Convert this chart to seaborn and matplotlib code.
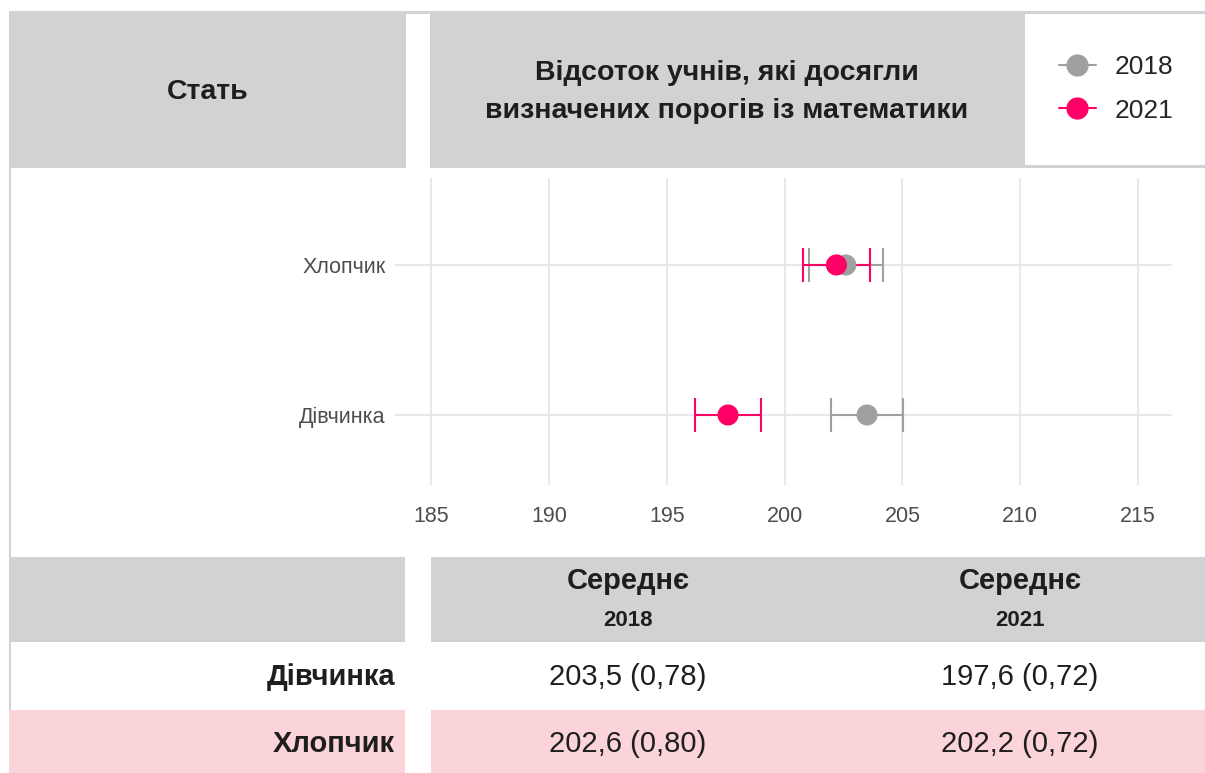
import numpy as np
import matplotlib
matplotlib.use("Agg")
import matplotlib.pyplot as plt
from matplotlib.patches import Rectangle
from matplotlib.lines import Line2D
import seaborn as sns

# data
groups = ["Дівчинка", "Хлопчик"]
years = ["2018", "2021"]
mean_2018 = [203.5, 202.6]
se_2018 = [0.78, 0.80]
mean_2021 = [197.6, 202.2]
se_2021 = [0.72, 0.72]
x_ticks = [185, 190, 195, 200, 205, 210, 215]

year_colors = {"2018": "#A0A0A0", "2021": "#FF0066"}
header_gray = "#D1D2D4"
row_pink = "#FAD4D8"
ink = "#1E1E1E"

sns.set_theme(style="whitegrid")
plt.rcParams["font.family"] = ["Liberation Sans", "DejaVu Sans"]

W, H = 1205, 773
fig = plt.figure(figsize=(W / 100, H / 100), dpi=100)


def box(x0, y0, x1, y1, color):
    # pixel box (top-left origin) -> figure patch
    fig.patches.append(Rectangle((x0 / W, 1 - y1 / H), (x1 - x0) / W, (y1 - y0) / H,
                                 transform=fig.transFigure, color=color, lw=0, zorder=0))


def ftext(x, y, s, **kw):
    fig.text(x / W, 1 - y / H, s, **kw)


# header band
box(9, 11, 1205, 168, header_gray)
box(406, 14, 430, 168, "white")
box(1025, 14, 1205, 165, "white")
box(9, 168, 11, 773, header_gray)
ftext(208, 92, "Стать", ha="center", va="center", fontsize=20.5, fontweight="bold", color=ink)
ftext(727, 92, "Відсоток учнів, які досягли\nвизначених порогів із математики",
      ha="center", va="center", fontsize=20.5, fontweight="bold", color=ink, linespacing=1.55)

# point + interval panel
ax = fig.add_axes([395 / W, 1 - 485 / H, 777 / W, 307 / H])
ypos = {"Хлопчик": 1, "Дівчинка": 0}
rows = []
for yr, means, ses in [("2018", mean_2018, se_2018), ("2021", mean_2021, se_2021)]:
    for g, m, s in zip(groups, means, ses):
        rows.append((yr, g, m, s))

for yr, g, m, s in rows:
    ax.errorbar(m, ypos[g], xerr=1.96 * s, fmt="none", ecolor=year_colors[yr],
                elinewidth=1.5, capsize=12, capthick=1.5, zorder=3)
sns.scatterplot(x=[r[2] for r in rows], y=[ypos[r[1]] for r in rows],
                hue=[r[0] for r in rows], palette=year_colors, s=230,
                linewidth=0, legend=False, ax=ax, zorder=4)

ax.set_xlim(183.47, 216.44)
ax.set_ylim(-0.467, 1.58)
ax.set_xticks(x_ticks)
ax.set_yticks([ypos[g] for g in groups])
ax.set_yticklabels(groups)
ax.grid(True, color="#E6E6E6", linewidth=1.3)
ax.set_facecolor("white")
for sp in ax.spines.values():
    sp.set_visible(False)
ax.tick_params(axis="x", labelsize=15.5, labelcolor="#4D4D4D", pad=15, length=0)
ax.tick_params(axis="y", labelsize=15.5, labelcolor="#4D4D4D", pad=7, length=0)
ax.set_xlabel("")
ax.set_ylabel("")

handles = [Line2D([0], [0], color=year_colors[y], marker="o", markersize=15, lw=1.5) for y in years]
fig.legend(handles, years, loc="center left", bbox_to_anchor=(1035 / W, 1 - 89 / H),
           frameon=False, fontsize=19, handlelength=1.4, labelspacing=0.72, handletextpad=0.7)

# table below
box(9, 557, 405, 642, header_gray)
box(431, 557, 1205, 642, header_gray)
box(9, 710, 405, 773, row_pink)
box(431, 710, 1205, 773, row_pink)
col_x = {"2018": 628, "2021": 1020}
for yr in years:
    ftext(col_x[yr], 581, "Середнє", ha="center", va="center", fontsize=21,
          fontweight="bold", color=ink)
    ftext(col_x[yr], 621, yr, ha="center", va="center", fontsize=16,
          fontweight="bold", color=ink)

row_y = {"Дівчинка": 677, "Хлопчик": 744}
for g in groups:
    ftext(395, row_y[g], g, ha="right", va="center", fontsize=21, fontweight="bold", color=ink)
for yr, means, ses in [("2018", mean_2018, se_2018), ("2021", mean_2021, se_2021)]:
    for g, m, s in zip(groups, means, ses):
        label = f"{m:.1f} ({s:.2f})".replace(".", ",")
        ftext(col_x[yr], row_y[g], label, ha="center", va="center", fontsize=21, color=ink)

fig.savefig("out.png", dpi=100, facecolor="white")
